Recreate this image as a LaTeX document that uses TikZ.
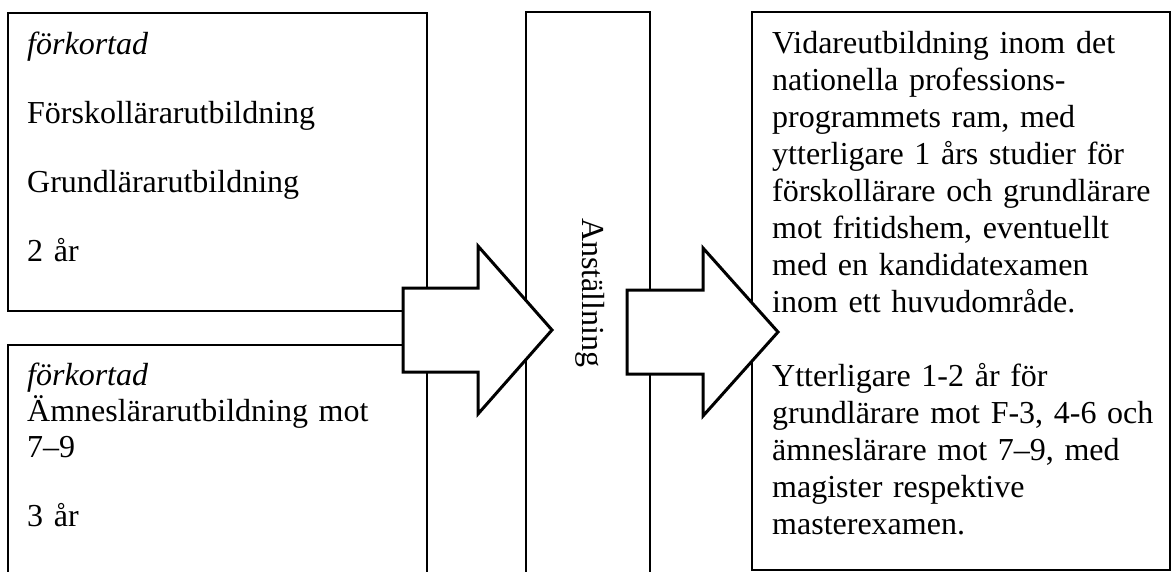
\documentclass[tikz,border=0pt]{standalone}
\usepackage{fontspec}
\setmainfont{Liberation Serif}
\usepackage{tikz}

\begin{document}
\begin{tikzpicture}[x=1pt,y=-1pt,
  box/.style={draw,line width=1.8pt,inner sep=0pt,outer sep=0pt,anchor=north west},
  txt/.style={anchor=base west,inner sep=0pt,align=left,text width=400pt,font=\fontsize{32}{36}\selectfont},
  bigarrow/.style={draw,fill=white,line width=3pt,line join=miter}]

\useasboundingbox (0,0) rectangle (1173,572);
\clip (0,0) rectangle (1173,572);

\node[box,minimum width=419pt,minimum height=298pt] (upper) at (8,13) {};
\node[box,minimum width=419pt,minimum height=290pt] (lower) at (8,345) {};
\node[box,minimum width=124pt,minimum height=620pt] (job) at (526,12) {};
\node[box,minimum width=418pt,minimum height=558pt] (further) at (752,12) {};
%%%
\draw[bigarrow] (403,288) -- (478,288) -- (478,246) -- (552,330) -- (478,414) -- (478,372) -- (403,372) -- cycle;
\draw[bigarrow] (627,290) -- (703,290) -- (703,248) -- (778,332) -- (703,416) -- (703,374) -- (627,374) -- cycle;
%%%
\node[txt] (uppertext) at (27,55) {\textit{förkortad}\\[33pt]Förskollärarutbildning\\[33pt]Grundlärarutbildning\\[33pt]2 år};
\node[txt] (lowertext) at (27,385) {\textit{förkortad}\\Ämneslärarutbildning mot\\7–9\\[33pt]3 år};
\node[rotate=-90,anchor=base,inner sep=0pt,font=\fontsize{32}{36}\selectfont] (jobtext) at (582,293) {Anställning};
\node[txt,font=\fontsize{32}{37}\selectfont] (furthertext) at (772,54) {Vidareutbildning inom det\\nationella professions-\\programmets ram, med\\ytterligare 1 års studier för\\förskollärare och grundlärare\\mot fritidshem, eventuellt\\med en kandidatexamen\\inom ett huvudområde.\\[37pt]Ytterligare 1-2 år för\\grundlärare mot F-3, 4-6 och\\ämneslärare mot 7–9, med\\magister respektive\\masterexamen.};
\end{tikzpicture}
\end{document}
